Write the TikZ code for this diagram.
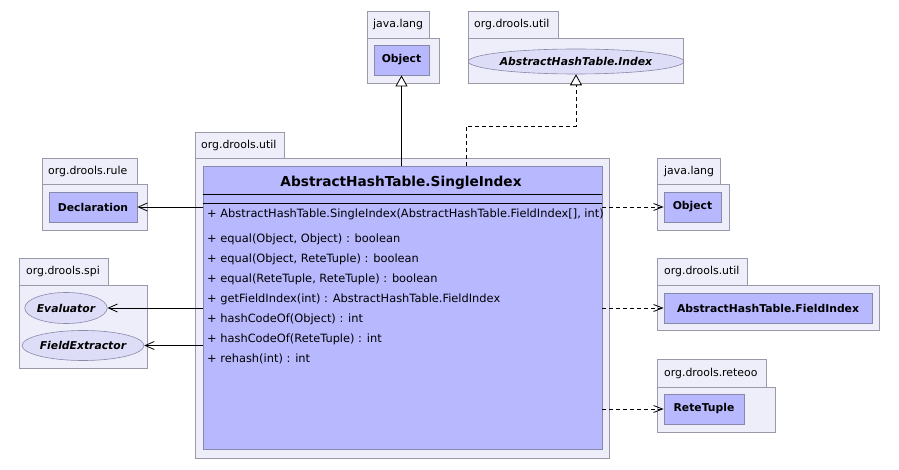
\documentclass[tikz,border=0pt]{standalone}
\usepackage{fontspec}
\setmainfont{DejaVu Sans}
\usetikzlibrary{arrows.meta,shapes.geometric}
\definecolor{pkgfill}{RGB}{238,238,250}
\definecolor{pkgdraw}{RGB}{153,153,170}
\definecolor{clsfill}{RGB}{184,184,255}
\definecolor{clsdraw}{RGB}{136,136,170}
\definecolor{ellfill}{RGB}{221,221,248}
\tikzset{
  pkg/.style={draw=pkgdraw, fill=pkgfill, line width=0.8pt, inner sep=0pt, anchor=north west},
  pkglabel/.style={anchor=west, inner sep=0pt, font=\fontsize{10.9}{12}\selectfont},
  cls/.style={draw=clsdraw, fill=clsfill, line width=0.8pt, inner sep=0pt, font=\bfseries\fontsize{10.8}{12}\selectfont},
  ifc/.style={ellipse, draw=clsdraw, fill=ellfill, line width=0.6pt, inner sep=0pt, font=\bfseries\itshape\fontsize{10.8}{12}\selectfont},
  member/.style={anchor=west, inner sep=0pt, font=\fontsize{11.4}{13}\selectfont},
  gen/.style={-{Triangle[open, length=11pt, width=12pt, fill=white]}, line width=0.8pt},
  real/.style={-{Triangle[open, length=11pt, width=12pt, fill=white]}, line width=0.8pt, dash pattern=on 4pt off 3pt},
  assoc/.style={-{Straight Barb[length=9pt, width=8pt]}, line width=0.8pt},
  dep/.style={-{Straight Barb[length=9pt, width=7pt]}, line width=0.8pt, dash pattern=on 4pt off 3pt},
}
\begin{document}
\begin{tikzpicture}[x=1pt,y=-1pt]
\useasboundingbox[fill=white] (0,0) rectangle (899,470);

% java.lang (top)
\node[pkg, minimum width=62pt, minimum height=27pt] (jlAtab) at (367,11) {};
\node[pkg, minimum width=72pt, minimum height=45pt] (jlAbody) at (367,38) {};
\node[pkglabel] (jlAlbl) at (373,24.5) {java.lang};
\node[cls, minimum width=55pt, minimum height=30pt] (objA) at (401.5,60) {Object};

% org.drools.util (top)
\node[pkg, minimum width=90pt, minimum height=27pt] (ouAtab) at (468,11) {};
\node[pkg, minimum width=215pt, minimum height=45pt] (ouAbody) at (468,38) {};
\node[pkglabel] (ouAlbl) at (474,24.5) {org.drools.util};
\node[ifc, minimum width=202pt, minimum height=25pt] (idx) at (576,61.5) {AbstractHashTable.Index};

% main package
\node[pkg, minimum width=89pt, minimum height=26pt] (mtab) at (195,132) {};
\node[pkg, minimum width=414pt, minimum height=300pt] (mbody) at (195,158) {};
\node[pkglabel] (mlbl) at (201,145) {org.drools.util};
\node[draw=clsdraw, fill=clsfill, line width=0.8pt, inner sep=0pt, minimum width=399pt, minimum height=283pt] (cls) at (402.5,307.5) {};
\node[font=\bfseries\fontsize{13.7}{15}\selectfont, inner sep=0pt] (title) at (401,183) {AbstractHashTable.SingleIndex};
\draw[line width=0.8pt] (cls.west |- 0,194) coordinate (l1a) -- (cls.east |- l1a);
\draw[line width=0.8pt] (cls.west |- 0,203) coordinate (l2a) -- (cls.east |- l2a);
\node[member] (m0) at (207,214) {+ AbstractHashTable.SingleIndex(AbstractHashTable.FieldIndex[], int)};
\node[member] (m1) at (207,239) {+ equal(Object, Object) : boolean};
\node[member] (m2) at (207,259) {+ equal(Object, ReteTuple) : boolean};
\node[member] (m3) at (207,279) {+ equal(ReteTuple, ReteTuple) : boolean};
\node[member] (m4) at (207,299) {+ getFieldIndex(int) : AbstractHashTable.FieldIndex};
\node[member] (m5) at (207,319) {+ hashCodeOf(Object) : int};
\node[member] (m6) at (207,339) {+ hashCodeOf(ReteTuple) : int};
\node[member] (m7) at (207,359) {+ rehash(int) : int};

% org.drools.rule
\node[pkg, minimum width=95pt, minimum height=26pt] (ruletab) at (42,158) {};
\node[pkg, minimum width=105pt, minimum height=46pt] (rulebody) at (42,184) {};
\node[pkglabel] (rulelbl) at (48,171) {org.drools.rule};
\node[cls, minimum width=88pt, minimum height=30pt] (decl) at (93,207) {Declaration};

% org.drools.spi
\node[pkg, minimum width=89pt, minimum height=27pt] (spitab) at (19,258) {};
\node[pkg, minimum width=128pt, minimum height=83pt] (spibody) at (19,285) {};
\node[pkglabel] (spilbl) at (26,271.5) {org.drools.spi};
\node[ifc, minimum width=78pt, minimum height=31pt] (eval) at (66,308) {Evaluator};
\node[ifc, minimum width=112pt, minimum height=30pt] (fext) at (83,345.5) {FieldExtractor};

% java.lang (right)
\node[pkg, minimum width=63pt, minimum height=26pt] (jlBtab) at (657,158) {};
\node[pkg, minimum width=72pt, minimum height=46pt] (jlBbody) at (657,184) {};
\node[pkglabel] (jlBlbl) at (664,171) {java.lang};
\node[cls, minimum width=57pt, minimum height=30pt] (objB) at (692.5,207) {Object};

% org.drools.util (right)
\node[pkg, minimum width=90pt, minimum height=27pt] (ouBtab) at (657,258) {};
\node[pkg, minimum width=222pt, minimum height=45pt] (ouBbody) at (657,285) {};
\node[pkglabel] (ouBlbl) at (664,271.5) {org.drools.util};
\node[cls, minimum width=208pt, minimum height=30pt] (fidx) at (768,308) {AbstractHashTable.FieldIndex};

% org.drools.reteoo
\node[pkg, minimum width=109pt, minimum height=28pt] (rtab) at (657,359) {};
\node[pkg, minimum width=118pt, minimum height=45pt] (rbody) at (657,387) {};
\node[pkglabel] (rlbl) at (664,373) {org.drools.reteoo};
\node[cls, minimum width=80pt, minimum height=30pt] (rete) at (704,409) {ReteTuple};

% connectors
\draw[gen] (objA.south |- cls.north) -- (objA.south);
\coordinate (rbend) at (466,126);
\draw[real] (rbend |- cls.north) -- (rbend) -| (idx.south);
\draw[assoc] (cls.west |- decl.east) -- (decl.east);
\draw[assoc] (cls.west |- eval.east) -- (eval.east);
\draw[assoc] (cls.west |- fext.east) -- (fext.east);
\draw[dep] (cls.east |- objB.west) -- (objB.west);
\draw[dep] (cls.east |- fidx.west) -- (fidx.west);
\draw[dep] (cls.east |- rete.west) -- (rete.west);
\end{tikzpicture}
\end{document}
